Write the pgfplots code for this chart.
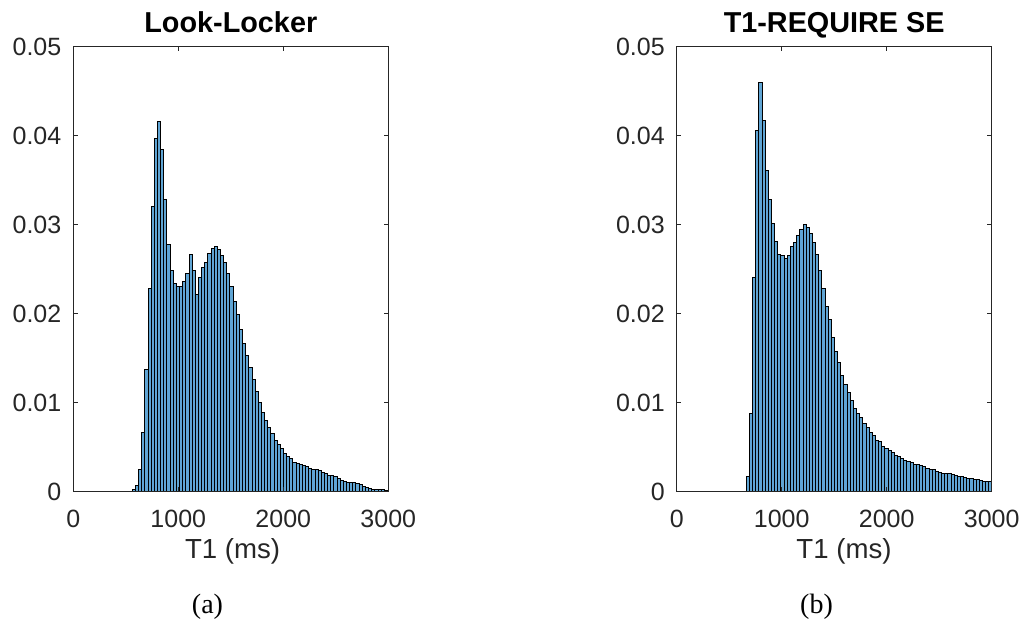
\documentclass[border=0pt]{standalone}
\usepackage{fontspec}
\setmainfont{Liberation Serif}
\newfontfamily\arial{Liberation Sans}
\usepackage{pgfplots}
\usepackage{pgfplotstable}
\pgfplotsset{compat=1.18}
\definecolor{matblue}{RGB}{96,165,212}
\definecolor{axgray}{RGB}{38,38,38}

\pgfplotstableread{
x y
577 0.0002
607 0.0007
637 0.0025
667 0.0067
697 0.0137
727 0.0228
757 0.0321
787 0.0397
817 0.0416
847 0.0385
877 0.0328
907 0.0278
937 0.0249
967 0.0234
997 0.0230
1027 0.0231
1057 0.0236
1087 0.0245
1117 0.0266
1147 0.0249
1177 0.0222
1207 0.0241
1237 0.0252
1267 0.0258
1297 0.0268
1327 0.0273
1357 0.0276
1387 0.0272
1417 0.0265
1447 0.0258
1477 0.0245
1507 0.0231
1537 0.0214
1567 0.0199
1597 0.0182
1627 0.0166
1657 0.0153
1687 0.0139
1717 0.0126
1747 0.0113
1777 0.0100
1807 0.0089
1837 0.0080
1867 0.0072
1897 0.0065
1927 0.0058
1957 0.0053
1987 0.0048
2017 0.0043
2047 0.0039
2077 0.0037
2107 0.0033
2137 0.0032
2167 0.0030
2197 0.0029
2227 0.0028
2257 0.0026
2287 0.0025
2317 0.0025
2347 0.0024
2377 0.0022
2407 0.0020
2437 0.0018
2467 0.0018
2497 0.0017
2527 0.0015
2557 0.0013
2587 0.0011
2617 0.0010
2647 0.0010
2677 0.0010
2707 0.0009
2737 0.0008
2767 0.0006
2797 0.0005
2827 0.0004
2857 0.0003
2887 0.0002
2917 0.0002
2947 0.0002
2977 0.0001
3007 0.0001
}\lookdata

\pgfplotstableread{
x y
678 0.0017
708 0.0088
738 0.0241
768 0.0406
798 0.0460
828 0.0417
858 0.0361
888 0.0328
918 0.0301
948 0.0281
978 0.0267
1008 0.0265
1038 0.0262
1068 0.0265
1098 0.0275
1128 0.0280
1158 0.0288
1188 0.0295
1218 0.0300
1248 0.0297
1278 0.0290
1308 0.0280
1338 0.0267
1368 0.0249
1398 0.0228
1428 0.0208
1458 0.0194
1488 0.0173
1518 0.0157
1548 0.0145
1578 0.0131
1608 0.0120
1638 0.0111
1668 0.0103
1698 0.0094
1728 0.0088
1758 0.0083
1788 0.0077
1818 0.0072
1848 0.0066
1878 0.0063
1908 0.0058
1938 0.0056
1968 0.0051
1998 0.0048
2028 0.0046
2058 0.0044
2088 0.0041
2118 0.0039
2148 0.0037
2178 0.0035
2208 0.0034
2238 0.0033
2268 0.0031
2298 0.0030
2328 0.0029
2358 0.0028
2388 0.0026
2418 0.0025
2448 0.0025
2478 0.0023
2508 0.0022
2538 0.0021
2568 0.0020
2598 0.0020
2628 0.0019
2658 0.0018
2688 0.0017
2718 0.0017
2748 0.0016
2778 0.0015
2808 0.0015
2838 0.0014
2868 0.0014
2898 0.0013
2928 0.0012
2958 0.0012
2988 0.0011
}\requiredata

\pgfplotsset{
  histax/.style={
    scale only axis, width=157.5pt, height=222.5pt,
    anchor=south west,
    xmin=0, xmax=3000, ymin=0, ymax=0.05,
    scaled x ticks=false, scaled y ticks=false,
    xtick={0,1000,2000,3000}, xticklabels={0,1000,2000,3000},
    ytick={0,0.01,0.02,0.03,0.04,0.05}, yticklabels={0,0.01,0.02,0.03,0.04,0.05},
    tick align=inside, major tick length=2.3pt,
    axis on top,
    axis line style={axgray, line width=0.5pt},
    every tick/.style={axgray, line width=0.5pt},
    ticklabel style={font=\fontsize{12.5}{14}\selectfont\arial, text=axgray, inner sep=0pt},
    xticklabel style={anchor=base, yshift=-17.8pt},
    yticklabel style={anchor=east, xshift=-5.8pt},
    every axis title/.style={at={(axis description cs:0.5,1)}, anchor=base, yshift=7.1pt, inner sep=0pt, font=\fontsize{14.4}{16}\selectfont\arial\bfseries},
    every axis x label/.style={at={(axis description cs:0.5,0)}, anchor=base, yshift=-33.3pt, inner sep=0pt, font=\fontsize{13.8}{16}\selectfont\arial, text=axgray},
  }
}

\begin{document}
\begin{tikzpicture}
\path[use as bounding box] (0,0) rectangle (513pt,309.5pt);
\begin{axis}[histax, at={(36.65pt,63.65pt)}, title={Look-Locker}, xlabel={T1 (ms)}, xlabel style={xshift=0.9pt}]
\addplot[ybar, bar width=30, bar shift=0pt, fill=matblue, draw=black, line width=0.5pt] table[x=x, y=y] {\lookdata};
\end{axis}
\begin{axis}[histax, at={(338.35pt,63.65pt)}, title={T1-REQUIRE SE}, xlabel={T1 (ms)}, xlabel style={xshift=4.9pt}]
\addplot[ybar, bar width=30, bar shift=0pt, fill=matblue, draw=black, line width=0.5pt] table[x=x, y=y] {\requiredata};
\end{axis}
\node[anchor=base, font=\fontsize{14}{16}\selectfont] at (103.75pt,2.85pt) {(a)};
\node[anchor=base, font=\fontsize{14}{16}\selectfont] at (408.25pt,2.85pt) {(b)};
\end{tikzpicture}
\end{document}
